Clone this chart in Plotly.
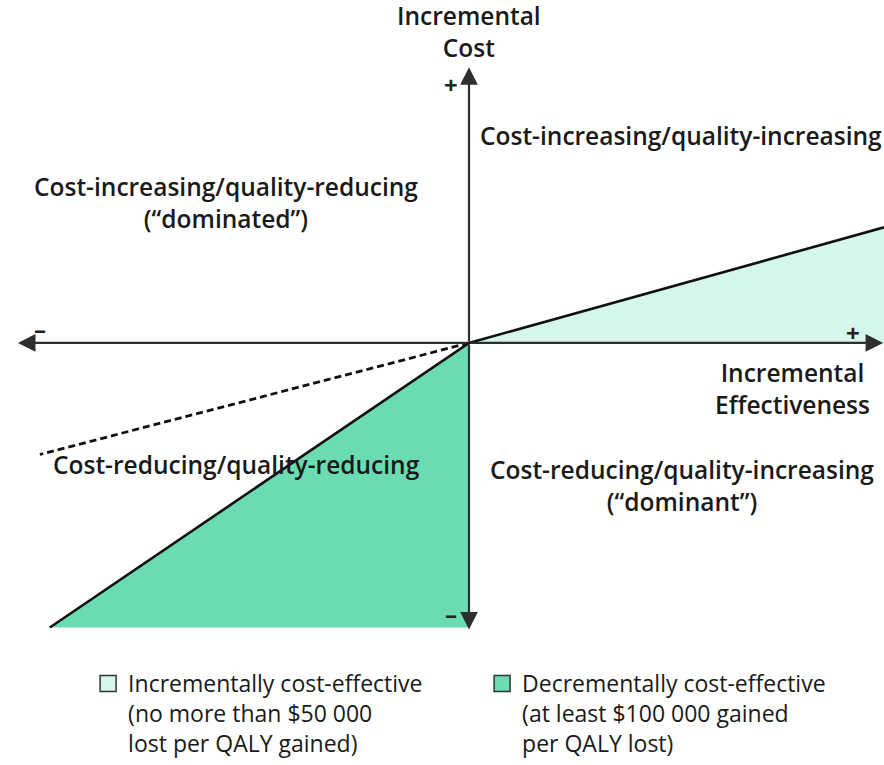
import plotly.graph_objects as go

# Data (arbitrary units: effectiveness in QALY units, cost in scaled $ units)
light_effect = [0, 1.0, 1.0, 0]
light_cost = [0, 0.406, 0, 0]
dark_effect = [0, -1.01, 0, 0]
dark_cost = [0, -1.0, -1.0, 0]
threshold_effect = [-1.01, 0, 1.0]
threshold_cost = [-1.0, 0, 0.406]
dashed_effect = [0, -1.034]
dashed_cost = [0, -0.392]
x_axis_ends = [-1.087, 0.998]
y_axis_ends = [-1.007, 0.969]

LIGHT = "#d5f6ea"
DARK = "#6bdcb1"
FONT = "Open Sans"

quadrant_labels = [
    ("Cost-increasing/quality-increasing", 681, 137),
    ("Cost-increasing/quality-reducing<br>(“dominated”)", 226, 205),
    ("Cost-reducing/quality-reducing", 236, 470),
    ("Cost-reducing/quality-increasing<br>(“dominant”)", 682, 491),
    ("Incremental<br>Cost", 469, 32),
    ("Incremental<br>Effectiveness", 792, 393),
]
sign_labels = [("+", 451, 86), ("+", 853, 336), ("–", 40, 332), ("–", 451, 621)]
legend_names = [
    "Incrementally cost-effective<br>(no more than $50 000<br>lost per QALY gained)",
    "Decrementally cost-effective<br>(at least $100 000 gained<br>per QALY lost)",
]

W, H = 884, 765


def px(x):
    return x / W


def py(y):
    return 1 - y / H


fig = go.Figure()
fig.add_trace(go.Scatter(x=light_effect, y=light_cost, fill="toself", fillcolor=LIGHT,
                         line=dict(width=0), mode="lines", showlegend=False, hoverinfo="skip"))
fig.add_trace(go.Scatter(x=dark_effect, y=dark_cost, fill="toself", fillcolor=DARK,
                         line=dict(width=0), mode="lines", showlegend=False, hoverinfo="skip"))
fig.add_trace(go.Scatter(x=threshold_effect, y=threshold_cost, mode="lines",
                         line=dict(color="#111", width=2.6), showlegend=False))
fig.add_trace(go.Scatter(x=dashed_effect, y=dashed_cost, mode="lines",
                         line=dict(color="#111", width=2.8, dash="7px,4px"), showlegend=False))
for name, col in zip(legend_names, [LIGHT, DARK]):
    fig.add_trace(go.Scatter(x=[None], y=[None], mode="markers", name=name,
                             marker=dict(symbol="square", size=16, color=col,
                                         line=dict(color="#333", width=1.5))))

# axes arrows
for xe in x_axis_ends:
    fig.add_annotation(x=xe, y=0, ax=0, ay=0, xref="x", yref="y", axref="x", ayref="y",
                       text="", showarrow=True, arrowhead=2, arrowsize=1.6, arrowwidth=2.2,
                       arrowcolor="#2e2e2e")
for ye in y_axis_ends:
    fig.add_annotation(x=0, y=ye, ax=0, ay=0, xref="x", yref="y", axref="x", ayref="y",
                       text="", showarrow=True, arrowhead=2, arrowsize=1.6, arrowwidth=2.2,
                       arrowcolor="#2e2e2e")

for txt, x, y in quadrant_labels:
    fig.add_annotation(x=px(x), y=py(y), xref="paper", yref="paper", text=txt,
                       showarrow=False, xanchor="center", yanchor="middle",
                       font=dict(family=FONT, size=24.5, color="#1a1a1a", weight=600))
for txt, x, y in sign_labels:
    fig.add_annotation(x=px(x), y=py(y), xref="paper", yref="paper", text=txt,
                       showarrow=False, xanchor="center", yanchor="middle",
                       font=dict(family=FONT, size=24, color="#222", weight=700))

fig.update_layout(
    width=W, height=H, margin=dict(l=0, r=0, t=0, b=0),
    paper_bgcolor="white", plot_bgcolor="white",
    xaxis=dict(range=[-469 / 415, (W - 469) / 415], visible=False, fixedrange=True),
    yaxis=dict(range=[(347 - H) / 288, 347 / 288], visible=False, fixedrange=True),
    showlegend=True,
    legend=dict(orientation="h", x=88.1 / W, y=py(670), xanchor="left", yanchor="top",
                entrywidth=349, valign="top", traceorder="normal",
                font=dict(family=FONT, size=23, color="#1a1a1a", weight=500),
                bgcolor="rgba(0,0,0,0)"),
)
fig.write_html("out.html", config={"displayModeBar": False, "staticPlot": True},
               post_script="document.body.style.margin='0';document.body.style.overflow='hidden';")
